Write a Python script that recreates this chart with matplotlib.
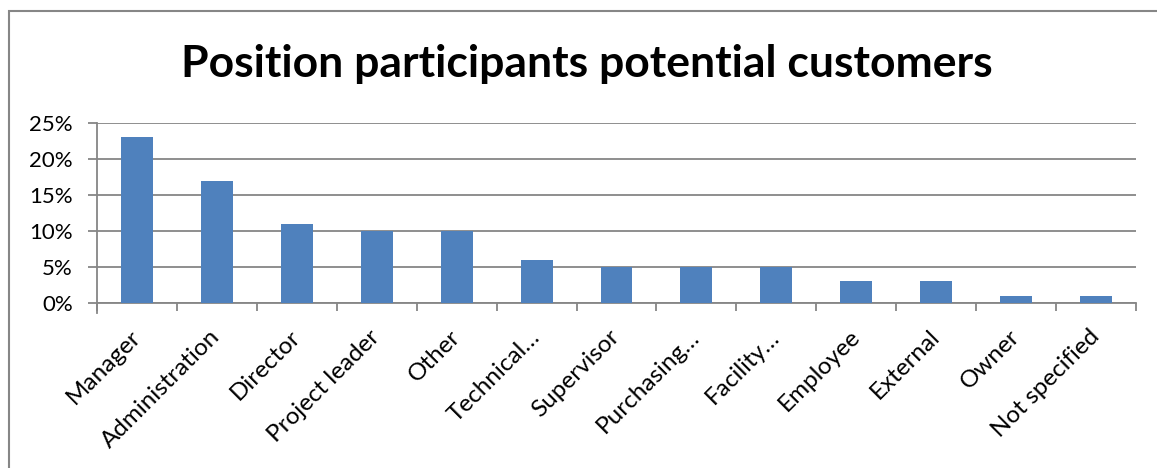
import matplotlib
matplotlib.use("Agg")
import matplotlib.pyplot as plt
from matplotlib.patches import Rectangle
from matplotlib.ticker import FuncFormatter, FixedLocator
from matplotlib.transforms import ScaledTranslation

positions = ["Manager", "Administration", "Director", "Project leader", "Other",
             "Technical…", "Supervisor", "Purchasing…", "Facility…", "Employee",
             "External", "Owner", "Not specified"]
shares = [23, 17, 11, 10, 10, 6, 5, 5, 5, 3, 3, 1, 1]
y_ticks = [0, 5, 10, 15, 20, 25]

BAR = "#4F81BD"
GRID = "#868686"

plt.rcParams["font.family"] = ["Lato", "DejaVu Sans"]

W, H = 1157, 468
fig = plt.figure(figsize=(W / 100, H / 100), dpi=100)
fig.patch.set_facecolor("white")

# outer chart border (runs off the right and bottom edges)
fig.patches.append(Rectangle((9 / W, -0.1), 1.2, (H - 11) / H + 0.1,
                             transform=fig.transFigure, fill=False,
                             edgecolor=GRID, linewidth=1.5))

ax = fig.add_axes([97 / W, 1 - 303 / H, (1136 - 97) / W, (303 - 123) / H])

x = range(len(positions))
ax.bar(x, shares, width=0.4, color=BAR, zorder=3)

ax.set_xlim(-0.5, len(positions) - 0.5)
ax.set_ylim(0, 25)
ax.set_yticks(y_ticks)
ax.yaxis.set_major_formatter(FuncFormatter(lambda v, _: f"{v:.0f}%"))
ax.grid(axis="y", color=GRID, linewidth=1.3, zorder=0)

ax.set_xticks(list(x))
ax.set_xticklabels(positions, rotation=45, ha="right", va="center",
                   rotation_mode="anchor", fontsize=17.5)
shift = ScaledTranslation(4 / 72, 0, fig.dpi_scale_trans)
for lbl in ax.get_xticklabels():
    lbl.set_transform(lbl.get_transform() + shift)
ax.xaxis.set_minor_locator(FixedLocator([i - 0.5 for i in range(len(positions) + 1)]))
ax.tick_params(axis="x", which="major", length=0, pad=22)
ax.tick_params(axis="x", which="minor", length=6, width=1.3, color=GRID)
ax.tick_params(axis="y", length=6.5, width=1.3, color=GRID, labelsize=16, pad=11)

for side in ("top", "right"):
    ax.spines[side].set_visible(False)
for side in ("left", "bottom"):
    ax.spines[side].set_color(GRID)
    ax.spines[side].set_linewidth(1.3)
ax.spines["left"].set_bounds(-1.4, 25)
ax.set_facecolor("none")

fig.text(587 / W, 1 - 77 / H, "Position participants potential customers",
         ha="center", va="baseline", fontsize=32, fontweight="bold")

fig.savefig("out.png", dpi=100)
